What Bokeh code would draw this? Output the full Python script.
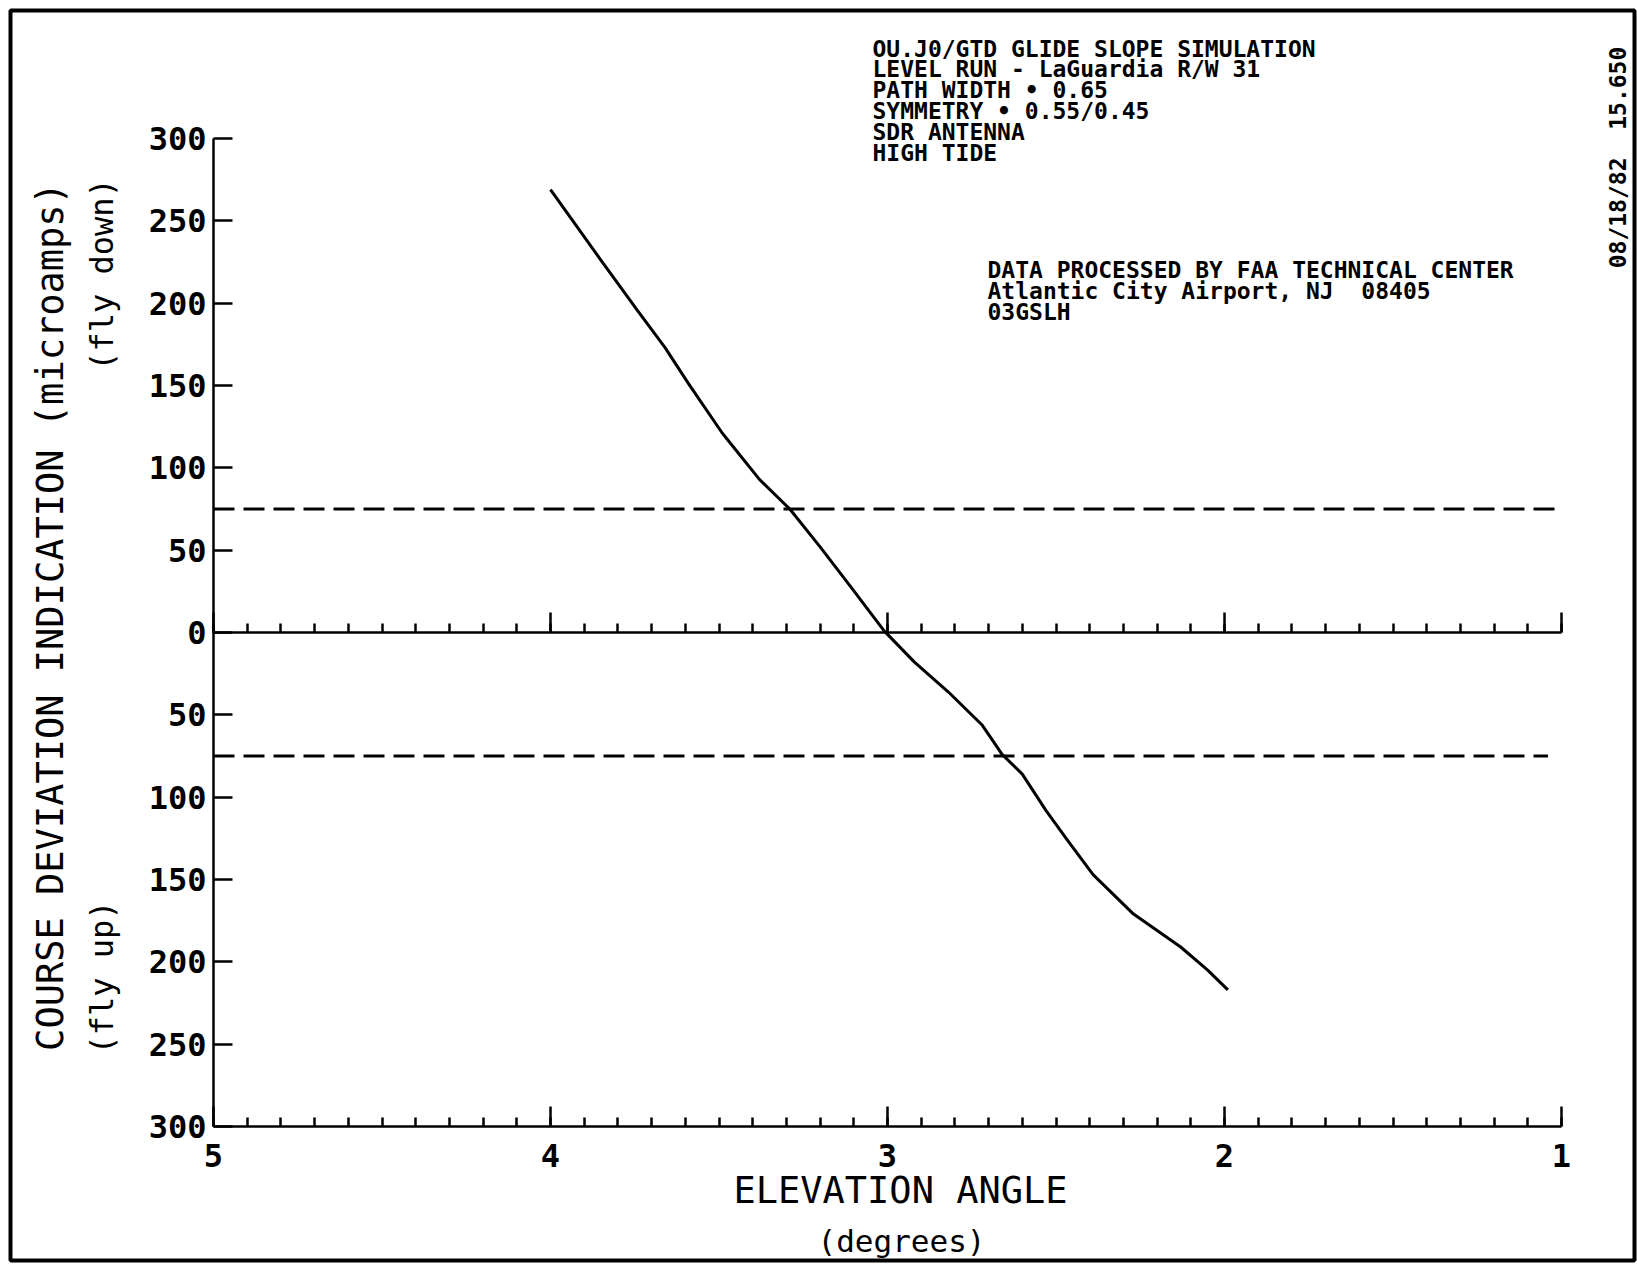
from bokeh.plotting import figure
from bokeh.models import Range1d, FixedTicker, Label, LinearAxis, BoxAnnotation
from bokeh.embed import file_html
from bokeh.resources import INLINE
import numpy as np

# ---------------- data ----------------
elevation = [4.00, 3.85, 3.74, 3.66, 3.59, 3.49, 3.38, 3.29, 3.20, 3.11, 3.01,
             2.92, 2.82, 2.72, 2.66, 2.60, 2.53, 2.47, 2.39, 2.27, 2.13, 2.05, 1.99]
deviation = [269, 226, 195, 173, 151, 121, 93, 75, 52, 28, 1,
             -18, -36, -56, -74, -86, -108, -125, -147, -171, -191, -205, -217]
limits = [75, -75]
limit_ends = [1.00, 1.04]
x_ticks = [5, 4, 3, 2, 1]
y_ticks = [-300, -250, -200, -150, -100, -50, 0, 50, 100, 150, 200, 250, 300]
header_lines = ["OU.J0/GTD GLIDE SLOPE SIMULATION",
                "LEVEL RUN - LaGuardia R/W 31",
                "PATH WIDTH \u2022 0.65",
                "SYMMETRY \u2022 0.55/0.45",
                "SDR ANTENNA",
                "HIGH TIDE"]
center_lines = ["DATA PROCESSED BY FAA TECHNICAL CENTER",
                "Atlantic City Airport, NJ\u00a0\u00a008405",
                "03GSLH"]
stamp = "08/18/82\u00a0\u00a015.650"

W, H = 1637, 1264
# pixel positions of the plotting box inside the page
FL, FR, FT, FB = 213, 1561, 138, 1126
MONO = "DejaVu Sans Mono"

# the plot frame covers the whole page; axes are pinned at fixed locations
xpp = 4.0 / (FR - FL)
ypp = 600.0 / (FB - FT)
x_rng = Range1d(5 + FL * xpp, 1 - (W - FR) * xpp)
y_rng = Range1d(-300 - (H - FB) * ypp, 300 + FT * ypp)

p = figure(width=W, height=H, output_backend="svg", toolbar_location=None,
           x_range=x_rng, y_range=y_rng, x_axis_type=None, y_axis_type=None,
           min_border=0, min_border_left=0, min_border_right=0,
           min_border_top=0, min_border_bottom=0,
           background_fill_color="white", border_fill_color="white")
p.grid.visible = False
p.outline_line_color = None

minor_all = [float(v) for v in np.round(np.arange(1, 5.0001, 0.1), 2)]

def x_axis(loc, labels):
    ax = LinearAxis(fixed_location=loc, bounds=(1, 5),
                    ticker=FixedTicker(ticks=x_ticks, minor_ticks=minor_all))
    ax.axis_line_width = 2.5
    ax.axis_line_color = "black"
    ax.major_tick_in = 20
    ax.major_tick_out = 0
    ax.minor_tick_in = 9
    ax.minor_tick_out = 0
    ax.major_tick_line_width = 2.5
    ax.minor_tick_line_width = 2.5
    ax.major_label_text_font = MONO
    ax.major_label_text_font_style = "bold"
    ax.major_label_text_font_size = "32px"
    ax.major_label_text_color = "black" if labels else None
    ax.major_label_standoff = 17
    p.add_layout(ax, "below")

x_axis(-300, True)
x_axis(0, False)

ya = LinearAxis(fixed_location=5, bounds=(-300, 300), ticker=FixedTicker(ticks=y_ticks))
ya.major_label_overrides = {t: str(abs(t)) for t in y_ticks}
ya.axis_line_width = 2.5
ya.axis_line_color = "black"
ya.major_tick_in = 19
ya.major_tick_out = 0
ya.minor_tick_in = 0
ya.minor_tick_out = 0
ya.major_tick_line_width = 2.5
ya.major_label_text_font = MONO
ya.major_label_text_font_style = "bold"
ya.major_label_text_font_size = "32px"
ya.major_label_text_color = "black"
ya.major_label_standoff = 7
p.add_layout(ya, "left")

# limit dashed lines
p.segment(x0=[5, 5], y0=limits, x1=limit_ends, y1=limits, line_color="black",
          line_width=3, line_dash="21 9")

# curve
p.line(elevation, deviation, line_color="black", line_width=3, line_join="round")

def lab(text, px, py, size, bold=False, align="left", angle=0.0, baseline="middle"):
    p.add_layout(Label(x=px, y=H - py, x_units="screen", y_units="screen",
                       text=text, text_font=MONO, text_font_size=size,
                       text_font_style="bold" if bold else "normal",
                       text_align=align, text_baseline=baseline, angle=angle,
                       text_color="black"))

for i, t in enumerate(header_lines):
    lab(t, 872, 48 + i * 20.8, "23px", bold=True)
for i, t in enumerate(center_lines):
    lab(t, 987, 269 + i * 21, "23px", bold=True)
lab(stamp, 1617, 157, "23px", bold=True, align="center", angle=np.pi / 2)

lab("COURSE DEVIATION INDICATION (microamps)", 50, 616, "37px", align="center", angle=np.pi / 2)
lab("(fly down)", 101, 274, "32px", align="center", angle=np.pi / 2)
lab("(fly up)", 101, 977, "32px", align="center", angle=np.pi / 2)
lab("ELEVATION ANGLE", 900, 1190, "37px", align="center")
lab("(degrees)", 901, 1240, "31px", align="center")

# page frame around the whole picture
p.add_layout(BoxAnnotation(left=10, right=1634, bottom=H - 1260, top=H - 10,
                           left_units="screen", right_units="screen",
                           bottom_units="screen", top_units="screen",
                           fill_alpha=0, fill_color=None,
                           line_color="black", line_alpha=1.0, line_width=4))

open("out.html", "w").write(file_html(p, INLINE))
